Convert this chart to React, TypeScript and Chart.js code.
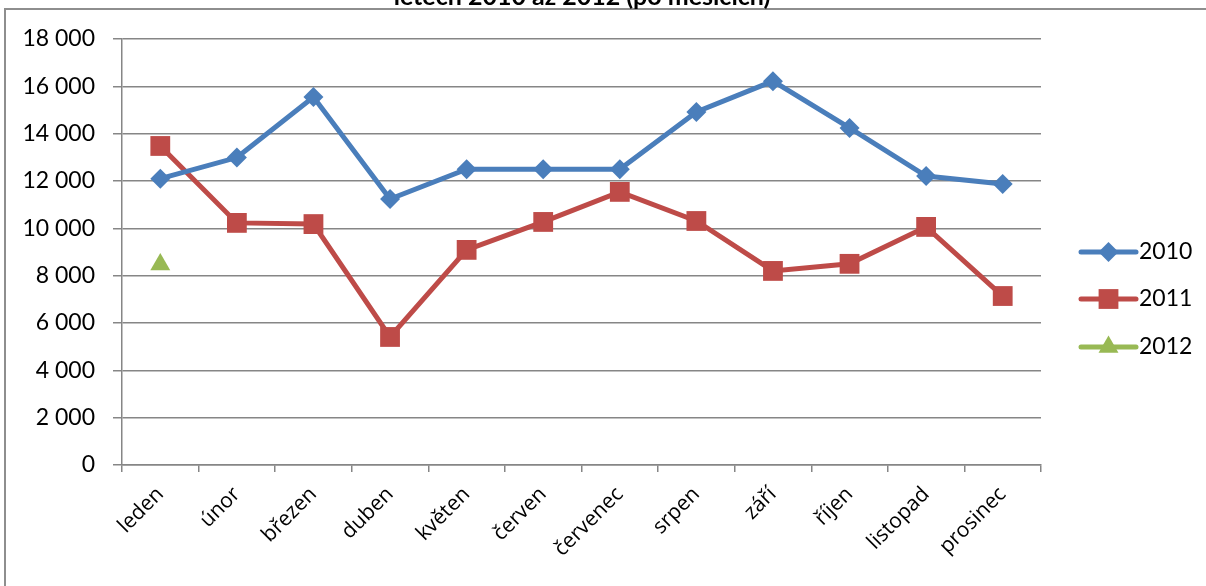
import React, { useEffect, useRef } from 'react';
import { Chart, registerables } from 'chart.js';

Chart.register(...registerables);

const months = ['leden', 'únor', 'březen', 'duben', 'květen', 'červen', 'červenec', 'srpen', 'září', 'říjen', 'listopad', 'prosinec'];
const values2010 = [12100, 12990, 15550, 11240, 12500, 12500, 12500, 14920, 16220, 14240, 12210, 11870];
const values2011 = [13480, 10230, 10180, 5410, 9090, 10270, 11540, 10310, 8200, 8500, 10060, 7140];
const values2012 = [8470, null, null, null, null, null, null, null, null, null, null, null];
const yTickValues = [0, 2000, 4000, 6000, 8000, 10000, 12000, 14000, 16000, 18000];
const seriesNames = ['2010', '2011', '2012'];
const titleText = 'letech 2010 až 2012 (po měsících)';

const COLORS = ['#4A7EBB', '#BE4B48', '#98B954'];
const STYLES = ['rectRot', 'rect', 'triangle'];
const RADII = [10, 14, 11.5];
const FONT = 'Lato, "Open Sans", sans-serif';
const XFONT = '"Open Sans", sans-serif';

function fmt(v: number) {
  return String(v).replace(/\B(?=(\d{3})+(?!\d))/g, ' ');
}

function drawMarker(ctx: CanvasRenderingContext2D, style: string, x: number, y: number, r: number) {
  ctx.beginPath();
  if (style === 'rectRot') {
    ctx.moveTo(x - r, y);
    ctx.lineTo(x, y - r);
    ctx.lineTo(x + r, y);
    ctx.lineTo(x, y + r);
  } else if (style === 'rect') {
    const s = Math.SQRT1_2 * r;
    ctx.rect(x - s, y - s, 2 * s, 2 * s);
  } else {
    const rad = -Math.PI / 2;
    ctx.moveTo(x + Math.cos(rad) * r, y + Math.sin(rad) * r);
    ctx.lineTo(x + Math.cos(rad + (2 * Math.PI) / 3) * r, y + Math.sin(rad + (2 * Math.PI) / 3) * r);
    ctx.lineTo(x + Math.cos(rad - (2 * Math.PI) / 3) * r, y + Math.sin(rad - (2 * Math.PI) / 3) * r);
  }
  ctx.closePath();
  ctx.fill();
}

const decorPlugin = {
  id: 'decor',
  afterDraw(chart: any) {
    const ctx = chart.ctx as CanvasRenderingContext2D;
    ctx.save();
    // frame (top & left visible)
    ctx.strokeStyle = '#8e8e8e';
    ctx.lineWidth = 2;
    ctx.beginPath();
    ctx.moveTo(5, 590);
    ctx.lineTo(5, 9);
    ctx.lineTo(1210, 9);
    ctx.stroke();
    // title (partially cut)
    ctx.fillStyle = '#000';
    ctx.font = 'bold 25px ' + FONT;
    ctx.textAlign = 'center';
    ctx.textBaseline = 'alphabetic';
    ctx.fillText(titleText, 582, 5);
    // legend
    const lx1 = 1081;
    const lx2 = 1136;
    const ys = [252, 299, 347];
    chart.data.datasets.forEach((ds: any, i: number) => {
      const y = ys[i];
      ctx.strokeStyle = COLORS[i];
      ctx.lineWidth = 5;
      ctx.lineCap = 'round';
      ctx.beginPath();
      ctx.moveTo(lx1, y);
      ctx.lineTo(lx2, y);
      ctx.stroke();
      ctx.fillStyle = COLORS[i];
      drawMarker(ctx, STYLES[i], (lx1 + lx2) / 2, y, RADII[i]);
      ctx.fillStyle = '#000';
      ctx.font = '23px ' + FONT;
      ctx.textAlign = 'left';
      ctx.textBaseline = 'middle';
      ctx.fillText(ds.label, 1139, y);
    });
    ctx.restore();
  },
};

export default function App() {
  const ref = useRef<HTMLCanvasElement>(null);
  useEffect(() => {
    if (!ref.current) return;
    const allValues = [values2010, values2011, values2012];
    const chart = new Chart(ref.current, {
      type: 'line',
      data: {
        labels: months,
        datasets: allValues.map((vals, i) => ({
          label: seriesNames[i],
          data: vals,
          borderColor: COLORS[i],
          backgroundColor: COLORS[i],
          borderWidth: 5,
          pointStyle: STYLES[i] as any,
          pointRadius: RADII[i],
          pointBorderWidth: 0,
          pointBackgroundColor: COLORS[i],
          tension: 0,
          spanGaps: false,
        })),
      },
      options: {
        responsive: false,
        animation: false,
        layout: { padding: { left: 0, right: 165, top: 39, bottom: 0 } },
        plugins: {
          legend: { display: false },
          title: { display: false },
          tooltip: { enabled: false },
        },
        scales: {
          x: {
            offset: true,
            grid: {
              offset: true,
              drawOnChartArea: false,
              drawTicks: true,
              tickLength: 7,
              color: '#868686',
              lineWidth: 1.5,
            },
            border: { color: '#868686', width: 1.5 },
            ticks: {
              minRotation: 45,
              maxRotation: 45,
              padding: 10,
              color: '#000',
              font: { family: XFONT, size: 21 },
            },
            afterFit(scale: any) {
              scale.height = 121;
            },
          },
          y: {
            min: 0,
            max: 18000,
            afterBuildTicks(scale: any) {
              scale.ticks = yTickValues.map((v) => ({ value: v }));
            },
            grid: {
              color: '#868686',
              lineWidth: 1.5,
              tickLength: 9,
            },
            border: { color: '#868686', width: 1.5 },
            ticks: {
              padding: 18,
              color: '#000',
              font: { family: FONT, size: 23 },
              callback: (v: any) => fmt(Number(v)),
            },
            afterFit(scale: any) {
              scale.width = 122;
            },
          },
        },
      },
      plugins: [decorPlugin],
    });
    return () => chart.destroy();
  }, []);
  return (
    <div style={{ position: 'fixed', left: 0, top: 0, width: 1206, height: 586, background: '#fff' }}>
      <canvas ref={ref} width={1206} height={586} style={{ display: 'block' }} />
    </div>
  );
}
